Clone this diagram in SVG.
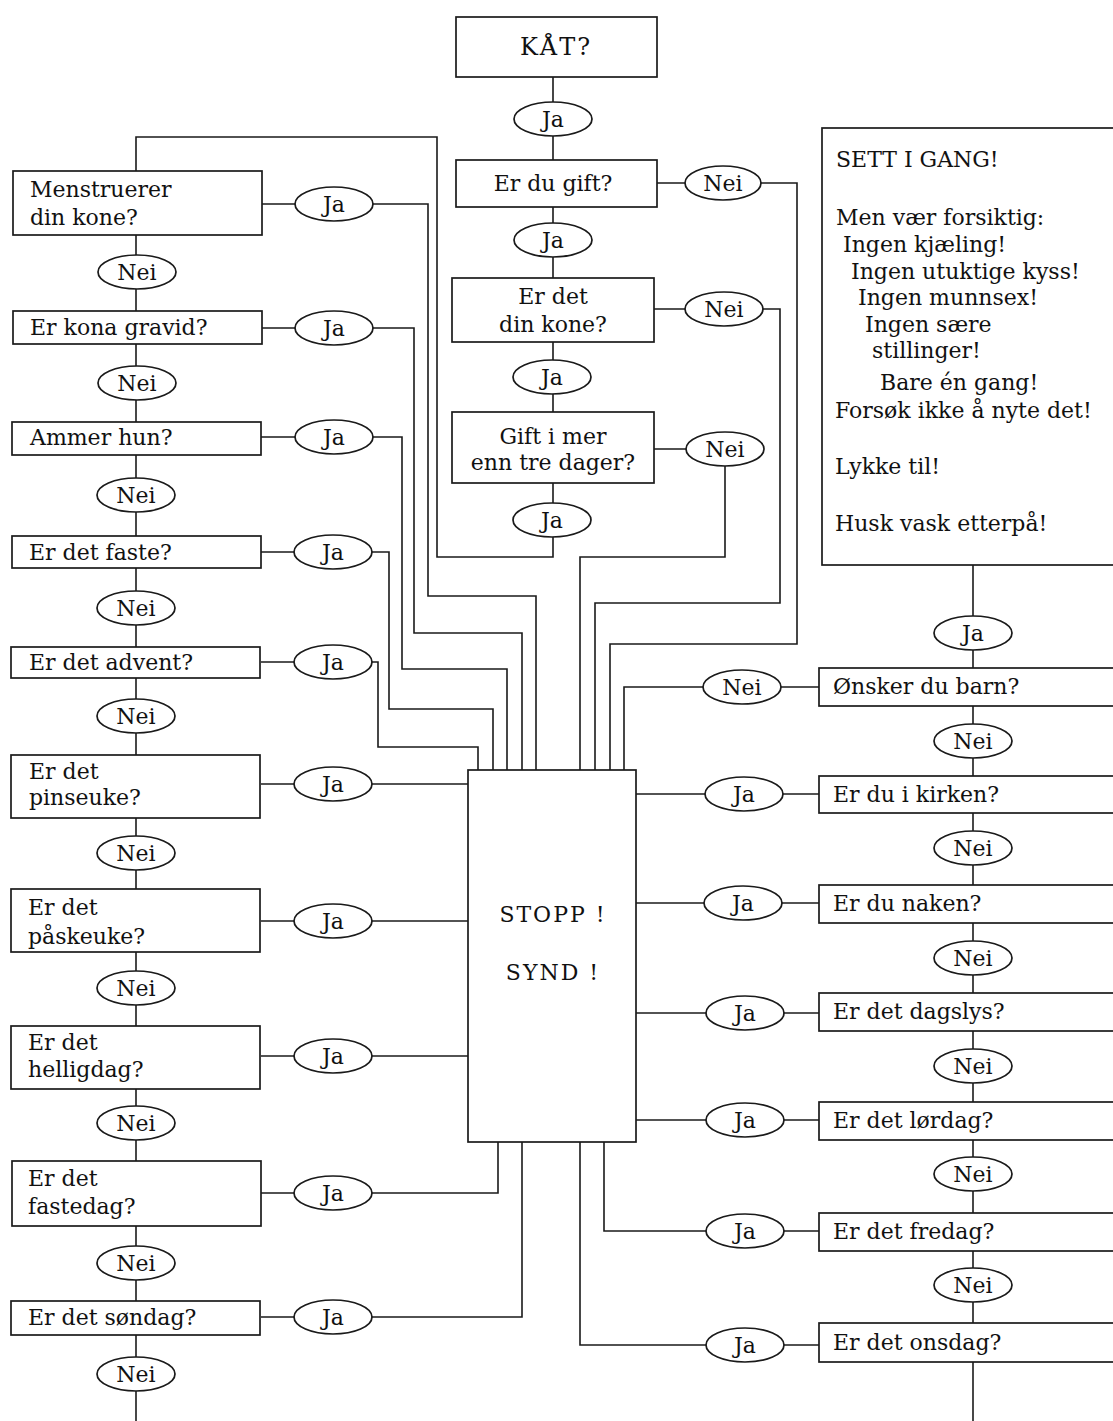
<svg xmlns="http://www.w3.org/2000/svg" width="1113" height="1421" viewBox="0 0 1113 1421">
<style>
.bx{fill:#fff;stroke:#1a1a1a;stroke-width:1.7}
.ov{fill:#fff;stroke:#1a1a1a;stroke-width:1.7}
.ln{fill:none;stroke:#1a1a1a;stroke-width:1.6}
.t{font-family:"DejaVu Serif","Liberation Serif",serif;font-size:22px;fill:#111}
.c{text-anchor:middle}
.big{font-size:22px;letter-spacing:2px}
</style>
<rect width="1113" height="1421" fill="#fff"/>
<g id="connectors" class="ln">
<path d="M553,77 V557 H437 V137 H136 V171"/>
<path d="M136,235 V1421"/>
<path d="M973,565 V1421"/>
<path d="M657,183 H797 V644 H610 V770"/>
<path d="M654,309 H780 V603 H595 V770"/>
<path d="M654,449 H725 V557 H580 V770"/>
<path d="M261,204 H428 V596 H536 V770"/>
<path d="M262,328 H414 V633 H522 V770"/>
<path d="M261,437 H402 V669 H507 V770"/>
<path d="M261,552 H389 V709 H493 V770"/>
<path d="M261,662 H378 V747 H478 V770"/>
<path d="M261,784 H468"/>
<path d="M261,921 H468"/>
<path d="M261,1056 H468"/>
<path d="M261,1193 H498 V1142"/>
<path d="M261,1317 H522 V1142"/>
<path d="M819,687 H624 V770"/>
<path d="M819,794 H636"/>
<path d="M819,903 H636"/>
<path d="M819,1013 H636"/>
<path d="M819,1120 H636"/>
<path d="M819,1231 H604 V1142"/>
<path d="M819,1345 H580 V1142"/>
</g>
<g id="n-kat"><rect class="bx" x="456" y="17" width="201" height="60"/><text class="t c" x="556" y="55" style="font-size:24px;letter-spacing:2px">KÅT?</text></g>
<g id="o-ja1"><ellipse class="ov" cx="553" cy="119" rx="39" ry="17"/><text class="t c" x="553" y="127">Ja</text></g>
<g id="n-gift"><rect class="bx" x="456" y="160" width="201" height="47"/><text class="t c" x="553" y="191">Er du gift?</text></g>
<g id="o-nei-gift"><ellipse class="ov" cx="723" cy="183" rx="38" ry="17"/><text class="t c" x="723" y="191">Nei</text></g>
<g id="o-ja2"><ellipse class="ov" cx="553" cy="240" rx="39" ry="17"/><text class="t c" x="553" y="248">Ja</text></g>
<g id="n-dinkone"><rect class="bx" x="452" y="278" width="202" height="64"/><text class="t c" x="553" y="304">Er det</text><text class="t c" x="553" y="332">din kone?</text></g>
<g id="o-nei-dinkone"><ellipse class="ov" cx="724" cy="309" rx="39" ry="17"/><text class="t c" x="724" y="317">Nei</text></g>
<g id="o-ja3"><ellipse class="ov" cx="552" cy="377" rx="39" ry="17"/><text class="t c" x="552" y="385">Ja</text></g>
<g id="n-tredager"><rect class="bx" x="452" y="412" width="202" height="71"/><text class="t c" x="553" y="444">Gift i mer</text><text class="t c" x="553" y="470">enn tre dager?</text></g>
<g id="o-nei-tredager"><ellipse class="ov" cx="725" cy="449" rx="39" ry="17"/><text class="t c" x="725" y="457">Nei</text></g>
<g id="o-ja4"><ellipse class="ov" cx="552" cy="520" rx="39" ry="17"/><text class="t c" x="552" y="528">Ja</text></g>

<g id="n-sett"><rect class="bx" x="822" y="128" width="310" height="437"/>
<text class="t" x="836" y="167">SETT I GANG!</text>
<text class="t" x="836" y="225">Men vær forsiktig:</text>
<text class="t" x="843" y="252">Ingen kjæling!</text>
<text class="t" x="851" y="279">Ingen utuktige kyss!</text>
<text class="t" x="858" y="305">Ingen munnsex!</text>
<text class="t" x="865" y="332">Ingen sære</text>
<text class="t" x="872" y="358">stillinger!</text>
<text class="t" x="880" y="390">Bare én gang!</text>
<text class="t" x="835" y="418">Forsøk ikke å nyte det!</text>
<text class="t" x="835" y="474">Lykke til!</text>
<text class="t" x="835" y="531">Husk vask etterpå!</text>
</g>

<g id="n-stopp"><rect class="bx" x="468" y="770" width="168" height="372"/><text class="t c big" x="553" y="922">STOPP !</text><text class="t c big" x="553" y="980">SYND !</text></g>

<g id="n-menstruerer"><rect class="bx" x="13" y="171" width="249" height="64"/><text class="t" x="30" y="197">Menstruerer</text><text class="t" x="30" y="225">din kone?</text></g>
<g id="o-l1-ja"><ellipse class="ov" cx="334" cy="204" rx="39" ry="17"/><text class="t c" x="334" y="212">Ja</text></g>
<g id="o-l1-nei"><ellipse class="ov" cx="137" cy="272" rx="39" ry="17"/><text class="t c" x="137" y="280">Nei</text></g>
<g id="n-gravid"><rect class="bx" x="13" y="311" width="249" height="33"/><text class="t" x="30" y="335">Er kona gravid?</text></g>
<g id="o-l2-ja"><ellipse class="ov" cx="334" cy="328" rx="39" ry="17"/><text class="t c" x="334" y="336">Ja</text></g>
<g id="o-l2-nei"><ellipse class="ov" cx="137" cy="383" rx="39" ry="17"/><text class="t c" x="137" y="391">Nei</text></g>
<g id="n-ammer"><rect class="bx" x="12" y="422" width="249" height="33"/><text class="t" x="30" y="445">Ammer hun?</text></g>
<g id="o-l3-ja"><ellipse class="ov" cx="334" cy="437" rx="39" ry="17"/><text class="t c" x="334" y="445">Ja</text></g>
<g id="o-l3-nei"><ellipse class="ov" cx="136" cy="495" rx="39" ry="17"/><text class="t c" x="136" y="503">Nei</text></g>
<g id="n-faste"><rect class="bx" x="12" y="536" width="249" height="32"/><text class="t" x="29" y="560">Er det faste?</text></g>
<g id="o-l4-ja"><ellipse class="ov" cx="333" cy="552" rx="39" ry="17"/><text class="t c" x="333" y="560">Ja</text></g>
<g id="o-l4-nei"><ellipse class="ov" cx="136" cy="608" rx="39" ry="17"/><text class="t c" x="136" y="616">Nei</text></g>
<g id="n-advent"><rect class="bx" x="11" y="647" width="249" height="31"/><text class="t" x="29" y="670">Er det advent?</text></g>
<g id="o-l5-ja"><ellipse class="ov" cx="333" cy="662" rx="39" ry="17"/><text class="t c" x="333" y="670">Ja</text></g>
<g id="o-l5-nei"><ellipse class="ov" cx="136" cy="716" rx="39" ry="17"/><text class="t c" x="136" y="724">Nei</text></g>
<g id="n-pinseuke"><rect class="bx" x="11" y="755" width="249" height="63"/><text class="t" x="29" y="779">Er det</text><text class="t" x="29" y="805">pinseuke?</text></g>
<g id="o-l6-ja"><ellipse class="ov" cx="333" cy="784" rx="39" ry="17"/><text class="t c" x="333" y="792">Ja</text></g>
<g id="o-l6-nei"><ellipse class="ov" cx="136" cy="853" rx="39" ry="17"/><text class="t c" x="136" y="861">Nei</text></g>
<g id="n-paskeuke"><rect class="bx" x="11" y="889" width="249" height="63"/><text class="t" x="28" y="915">Er det</text><text class="t" x="28" y="944">påskeuke?</text></g>
<g id="o-l7-ja"><ellipse class="ov" cx="333" cy="921" rx="39" ry="17"/><text class="t c" x="333" y="929">Ja</text></g>
<g id="o-l7-nei"><ellipse class="ov" cx="136" cy="988" rx="39" ry="17"/><text class="t c" x="136" y="996">Nei</text></g>
<g id="n-helligdag"><rect class="bx" x="11" y="1026" width="249" height="63"/><text class="t" x="28" y="1050">Er det</text><text class="t" x="28" y="1077">helligdag?</text></g>
<g id="o-l8-ja"><ellipse class="ov" cx="333" cy="1056" rx="39" ry="17"/><text class="t c" x="333" y="1064">Ja</text></g>
<g id="o-l8-nei"><ellipse class="ov" cx="136" cy="1123" rx="39" ry="17"/><text class="t c" x="136" y="1131">Nei</text></g>
<g id="n-fastedag"><rect class="bx" x="12" y="1161" width="249" height="65"/><text class="t" x="28" y="1186">Er det</text><text class="t" x="28" y="1214">fastedag?</text></g>
<g id="o-l9-ja"><ellipse class="ov" cx="333" cy="1193" rx="39" ry="17"/><text class="t c" x="333" y="1201">Ja</text></g>
<g id="o-l9-nei"><ellipse class="ov" cx="136" cy="1263" rx="39" ry="17"/><text class="t c" x="136" y="1271">Nei</text></g>
<g id="n-sondag"><rect class="bx" x="11" y="1301" width="249" height="34"/><text class="t" x="28" y="1325">Er det søndag?</text></g>
<g id="o-l10-ja"><ellipse class="ov" cx="333" cy="1317" rx="39" ry="17"/><text class="t c" x="333" y="1325">Ja</text></g>
<g id="o-l10-nei"><ellipse class="ov" cx="136" cy="1374" rx="39" ry="17"/><text class="t c" x="136" y="1382">Nei</text></g>

<g id="o-r0-ja"><ellipse class="ov" cx="973" cy="633" rx="39" ry="17"/><text class="t c" x="973" y="641">Ja</text></g>
<g id="n-barn"><rect class="bx" x="819" y="668" width="310" height="38"/><text class="t" x="833" y="694">Ønsker du barn?</text></g>
<g id="o-r1-nei-l"><ellipse class="ov" cx="742" cy="687" rx="39" ry="17"/><text class="t c" x="742" y="695">Nei</text></g>
<g id="o-r1-nei"><ellipse class="ov" cx="973" cy="741" rx="39" ry="17"/><text class="t c" x="973" y="749">Nei</text></g>
<g id="n-kirken"><rect class="bx" x="819" y="776" width="310" height="37"/><text class="t" x="833" y="802">Er du i kirken?</text></g>
<g id="o-r2-ja"><ellipse class="ov" cx="744" cy="794" rx="39" ry="17"/><text class="t c" x="744" y="802">Ja</text></g>
<g id="o-r2-nei"><ellipse class="ov" cx="973" cy="848" rx="39" ry="17"/><text class="t c" x="973" y="856">Nei</text></g>
<g id="n-naken"><rect class="bx" x="819" y="885" width="310" height="38"/><text class="t" x="833" y="911">Er du naken?</text></g>
<g id="o-r3-ja"><ellipse class="ov" cx="743" cy="903" rx="39" ry="17"/><text class="t c" x="743" y="911">Ja</text></g>
<g id="o-r3-nei"><ellipse class="ov" cx="973" cy="958" rx="39" ry="17"/><text class="t c" x="973" y="966">Nei</text></g>
<g id="n-dagslys"><rect class="bx" x="819" y="993" width="310" height="38"/><text class="t" x="833" y="1019">Er det dagslys?</text></g>
<g id="o-r4-ja"><ellipse class="ov" cx="745" cy="1013" rx="39" ry="17"/><text class="t c" x="745" y="1021">Ja</text></g>
<g id="o-r4-nei"><ellipse class="ov" cx="973" cy="1066" rx="39" ry="17"/><text class="t c" x="973" y="1074">Nei</text></g>
<g id="n-lordag"><rect class="bx" x="819" y="1102" width="310" height="38"/><text class="t" x="833" y="1128">Er det lørdag?</text></g>
<g id="o-r5-ja"><ellipse class="ov" cx="745" cy="1120" rx="39" ry="17"/><text class="t c" x="745" y="1128">Ja</text></g>
<g id="o-r5-nei"><ellipse class="ov" cx="973" cy="1174" rx="39" ry="17"/><text class="t c" x="973" y="1182">Nei</text></g>
<g id="n-fredag"><rect class="bx" x="819" y="1213" width="310" height="38"/><text class="t" x="833" y="1239">Er det fredag?</text></g>
<g id="o-r6-ja"><ellipse class="ov" cx="745" cy="1231" rx="39" ry="17"/><text class="t c" x="745" y="1239">Ja</text></g>
<g id="o-r6-nei"><ellipse class="ov" cx="973" cy="1285" rx="39" ry="17"/><text class="t c" x="973" y="1293">Nei</text></g>
<g id="n-onsdag"><rect class="bx" x="819" y="1323" width="310" height="39"/><text class="t" x="833" y="1350">Er det onsdag?</text></g>
<g id="o-r7-ja"><ellipse class="ov" cx="745" cy="1345" rx="39" ry="17"/><text class="t c" x="745" y="1353">Ja</text></g>
</svg>
